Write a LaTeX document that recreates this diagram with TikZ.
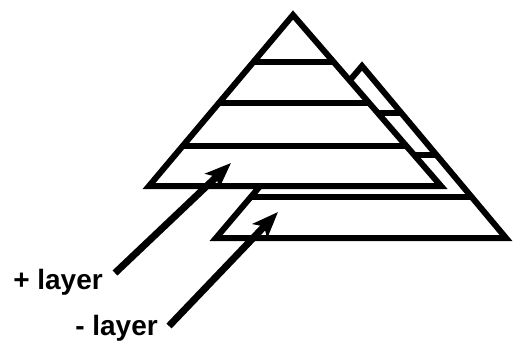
\documentclass[tikz,border=0pt]{standalone}
\usepackage{fontspec}
\setmainfont{Liberation Sans}
\usetikzlibrary{arrows.meta}
\begin{document}
\begin{tikzpicture}[x=1pt,y=-1pt,
  outline/.style={line width=6pt, line join=miter},
  band/.style={line width=6pt},
  pointer/.style={line width=7pt, -{Stealth[length=26pt,width=20pt,inset=6pt]}},
  lbl/.style={font=\fontsize{28}{30}\selectfont\bfseries, inner sep=0pt, anchor=base east}]
\useasboundingbox (0,0) rectangle (514,346);
% back layer (- layer)
\coordinate (bA) at (362,66);
\coordinate (bL) at (216,238);
\coordinate (bR) at (506,238);
\fill[white] (bA) -- (bL) -- (bR) -- cycle;
\begin{scope}
  \clip (bA) -- (bL) -- (bR) -- cycle;
  \draw[band] (150,113) -- (520,113);
  \draw[band] (150,155) -- (520,155);
  \draw[band] (150,197) -- (520,197);
\end{scope}
\draw[outline] (bA) -- (bL) -- (bR) -- cycle;
% front layer (+ layer)
\coordinate (fA) at (293,15);
\coordinate (fL) at (149,186);
\coordinate (fR) at (441,186);
\fill[white] (fA) -- (fL) -- (fR) -- cycle;
\begin{scope}
  \clip (fA) -- (fL) -- (fR) -- cycle;
  \draw[band] (100,62) -- (500,62);
  \draw[band] (100,103) -- (500,103);
  \draw[band] (100,146) -- (500,146);
\end{scope}
\draw[outline] (fA) -- (fL) -- (fR) -- cycle;
% labels and pointers
\node[lbl] (plus) at (103,289) {+ layer};
\node[lbl] (minus) at (158,335) {- layer};
\coordinate (plusTail) at (115,273);
\coordinate (plusTip) at (231,163);
\coordinate (minusTail) at (169,326);
\coordinate (minusTip) at (278,212);
\draw[pointer] (plusTail) -- (plusTip);
\draw[pointer] (minusTail) -- (minusTip);
\end{tikzpicture}
\end{document}
